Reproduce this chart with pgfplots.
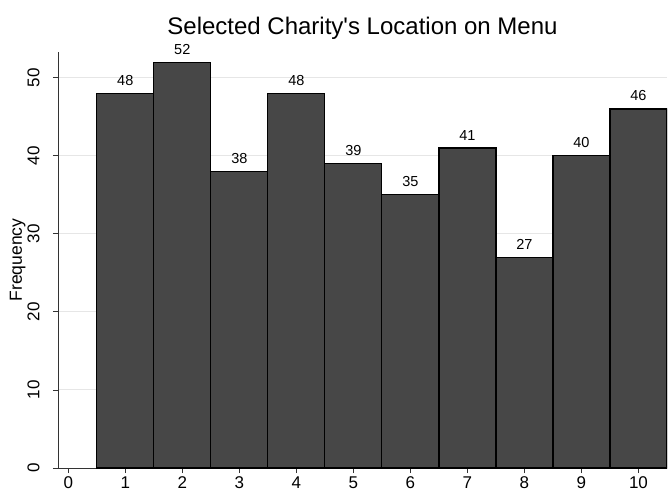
\documentclass[border=0pt]{standalone}
\usepackage{pgfplots}
\pgfplotsset{compat=1.18}
\usepackage{fontspec}
\setmainfont{Liberation Sans}
\definecolor{barfill}{HTML}{474747}
\definecolor{gridc}{HTML}{E6E6E6}
\definecolor{axc}{HTML}{333333}
\begin{document}
\begin{tikzpicture}
  \begin{axis}[
    scale only axis,
    width=609pt, height=416pt,
    xmin=-0.18, xmax=10.5,
    ymin=0, ymax=53.3,
    axis x line*=bottom, axis y line*=left,
    axis line style={axc, line width=0.9pt, -},
    xtick={0,...,10},
    ytick={0,10,...,50},
    tick style={axc, line width=0.9pt},
    tick align=outside,
    major tick length=5pt,
    ymajorgrids=true,
    grid style={gridc, line width=1pt},
    /pgf/number format/assume math mode=true,
    ticklabel style={font=\fontsize{17}{19}\selectfont},
    yticklabel style={rotate=90, anchor=south, yshift=10pt},
    ylabel={Frequency},
    ylabel style={font=\fontsize{17.5}{19}\selectfont, yshift=-5pt},
    title={Selected Charity\textquotesingle s Location on Menu},
    title style={font=\fontsize{24}{27}\selectfont, yshift=3pt, xshift=0pt},
    ybar, bar width=1, bar shift=0pt,
    nodes near coords,
    every node near coord/.append style={font=\fontsize{14.5}{16}\selectfont, text=black, yshift=4pt},
  ]
  \addplot[fill=barfill, draw=black, line width=1.2pt] coordinates {
    (1,48) (2,52) (3,38) (4,48) (5,39) (6,35) (7,41) (8,27) (9,40) (10,46)
  };
  \coordinate (bl) at (rel axis cs:0,0);
  \coordinate (tr) at (rel axis cs:1,1);
  \end{axis}
  \pgfresetboundingbox
  \path (bl) ++(-58pt,-28pt) coordinate (a);
  \path (tr) ++(2pt,52pt) coordinate (b);
  \path[use as bounding box] (a) rectangle (b);
\end{tikzpicture}
\end{document}
